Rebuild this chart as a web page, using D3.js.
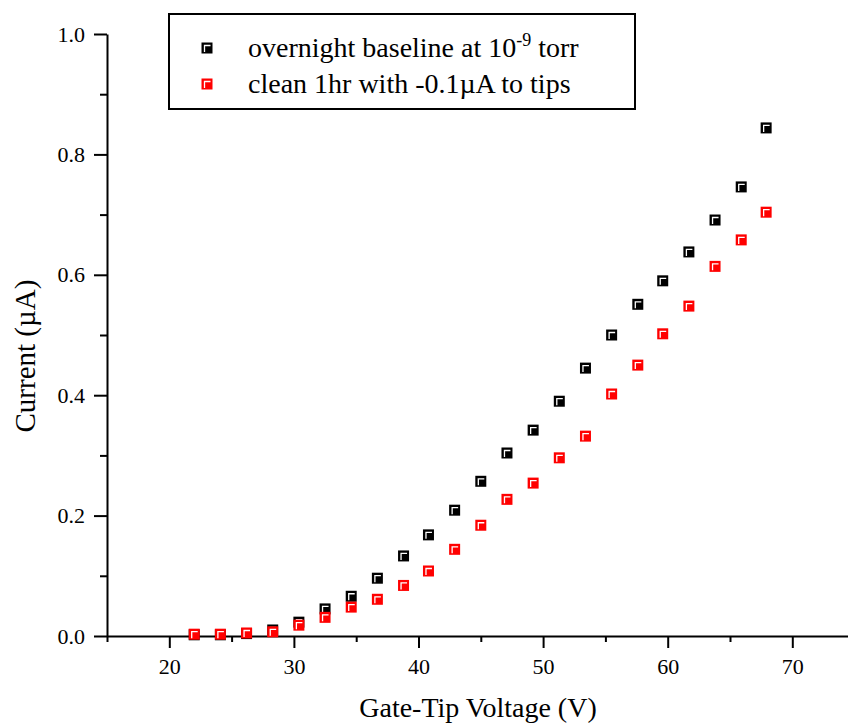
<!DOCTYPE html>
<html>
<head>
<meta charset="utf-8">
<script src="https://cdn.jsdelivr.net/npm/d3@7"></script>
<style>
  html, body { margin: 0; padding: 0; background: #fff; }
  svg { display: block; font-family: "Liberation Serif", "Times New Roman", serif; }
</style>
</head>
<body>
<svg id="chart" width="848" height="725"></svg>
<script>
// ---- data ----
const voltage = [22.0, 24.1, 26.2, 28.3, 30.4, 32.5, 34.6, 36.7, 38.8, 40.8, 42.9, 45.0,
                 47.1, 49.2, 51.3, 53.4, 55.5, 57.6, 59.6, 61.7, 63.8, 65.9, 67.9];
const baseline = [0.002, 0.002, 0.004, 0.010, 0.023, 0.045, 0.066, 0.096, 0.133, 0.168, 0.209, 0.257,
                  0.304, 0.342, 0.390, 0.445, 0.500, 0.551, 0.590, 0.638, 0.691, 0.746, 0.844];
const cleaned  = [0.003, 0.003, 0.005, 0.007, 0.018, 0.031, 0.048, 0.061, 0.084, 0.108, 0.144, 0.184,
                  0.227, 0.254, 0.296, 0.332, 0.402, 0.450, 0.502, 0.548, 0.614, 0.658, 0.704];
const seriesNames = ["overnight baseline at 10", "clean 1hr with -0.1\u00B5A to tips"];
const seriesColors = ["#000000", "#ff0000"];
const xMajorTicks = [20, 30, 40, 50, 60, 70];
const xMinorTicks = [15, 25, 35, 45, 55, 65, 75];
const yMajorTicks = [0.0, 0.2, 0.4, 0.6, 0.8, 1.0];
const yMinorTicks = [0.1, 0.3, 0.5, 0.7, 0.9];
const xTitle = "Gate-Tip Voltage (V)";
const yTitle = "Current (\u00B5A)";

// ---- layout ----
const svg = d3.select("#chart");
const x = d3.scaleLinear().domain([15, 75]).range([107, 854.6]);
const y = d3.scaleLinear().domain([0, 1]).range([636, 34]);

// axes
const xAxisG = svg.append("g").attr("transform", `translate(0,${y(0)})`);
xAxisG.call(d3.axisBottom(x).tickValues(xMajorTicks).tickSize(12).tickSizeOuter(0).tickPadding(10).tickFormat(d3.format("d")));
xAxisG.append("g").call(d3.axisBottom(x).tickValues(xMinorTicks).tickSize(6).tickSizeOuter(0).tickFormat(""))
  .select(".domain").remove();
xAxisG.selectAll("text").attr("font-size", 22).attr("fill", "#000").attr("font-family", "Liberation Serif");
xAxisG.selectAll("line, path").attr("stroke", "#000").attr("stroke-width", 2);

const yAxisG = svg.append("g").attr("transform", `translate(${x(15)},0)`);
yAxisG.call(d3.axisLeft(y).tickValues(yMajorTicks).tickSize(13).tickSizeOuter(0).tickPadding(9).tickFormat(d3.format(".1f")));
yAxisG.append("g").call(d3.axisLeft(y).tickValues(yMinorTicks).tickSize(7).tickSizeOuter(0).tickFormat(""))
  .select(".domain").remove();
yAxisG.selectAll("text").attr("font-size", 22).attr("fill", "#000").attr("font-family", "Liberation Serif");
yAxisG.selectAll("line, path").attr("stroke", "#000").attr("stroke-width", 2);

// titles
svg.append("text").attr("x", 478).attr("y", 717).attr("text-anchor", "middle")
  .attr("font-size", 28).attr("fill", "#000").text(xTitle);
svg.append("text").attr("transform", `translate(35,${y(0.465)}) rotate(-90)`).attr("text-anchor", "middle")
  .attr("font-size", 29).attr("fill", "#000").text(yTitle);

// marker drawing
function marker(g, cx, cy, color) {
  g.append("rect").attr("x", cx - 5.5).attr("y", cy - 5.5).attr("width", 11).attr("height", 11).attr("fill", color);
  g.append("path").attr("d", `M${cx - 2.5},${cy + 4} V${cy - 2.5} H${cx + 3.5}`)
    .attr("fill", "none").attr("stroke", "#fff").attr("stroke-width", 1.3);
}

const series = [baseline, cleaned];
series.forEach((vals, si) => {
  const g = svg.append("g").attr("class", "series" + si);
  vals.forEach((v, i) => marker(g, x(voltage[i]), y(v), seriesColors[si]));
});

// legend
const lg = svg.append("g");
lg.append("rect").attr("x", 169).attr("y", 14).attr("width", 466).attr("height", 95)
  .attr("fill", "#fff").attr("stroke", "#000").attr("stroke-width", 2);
[48, 84].forEach((ly, i) => {
  marker(lg, 207, ly, seriesColors[i]);
});
const t1 = lg.append("text").attr("x", 248).attr("y", 57).attr("font-size", 28).attr("fill", "#000");
t1.append("tspan").text(seriesNames[0]);
t1.append("tspan").attr("dy", -11).attr("font-size", 18).text("-9");
t1.append("tspan").attr("dy", 11).text(" torr");
lg.append("text").attr("x", 248).attr("y", 93).attr("font-size", 28).attr("fill", "#000").text(seriesNames[1]);
</script>
</body>
</html>
